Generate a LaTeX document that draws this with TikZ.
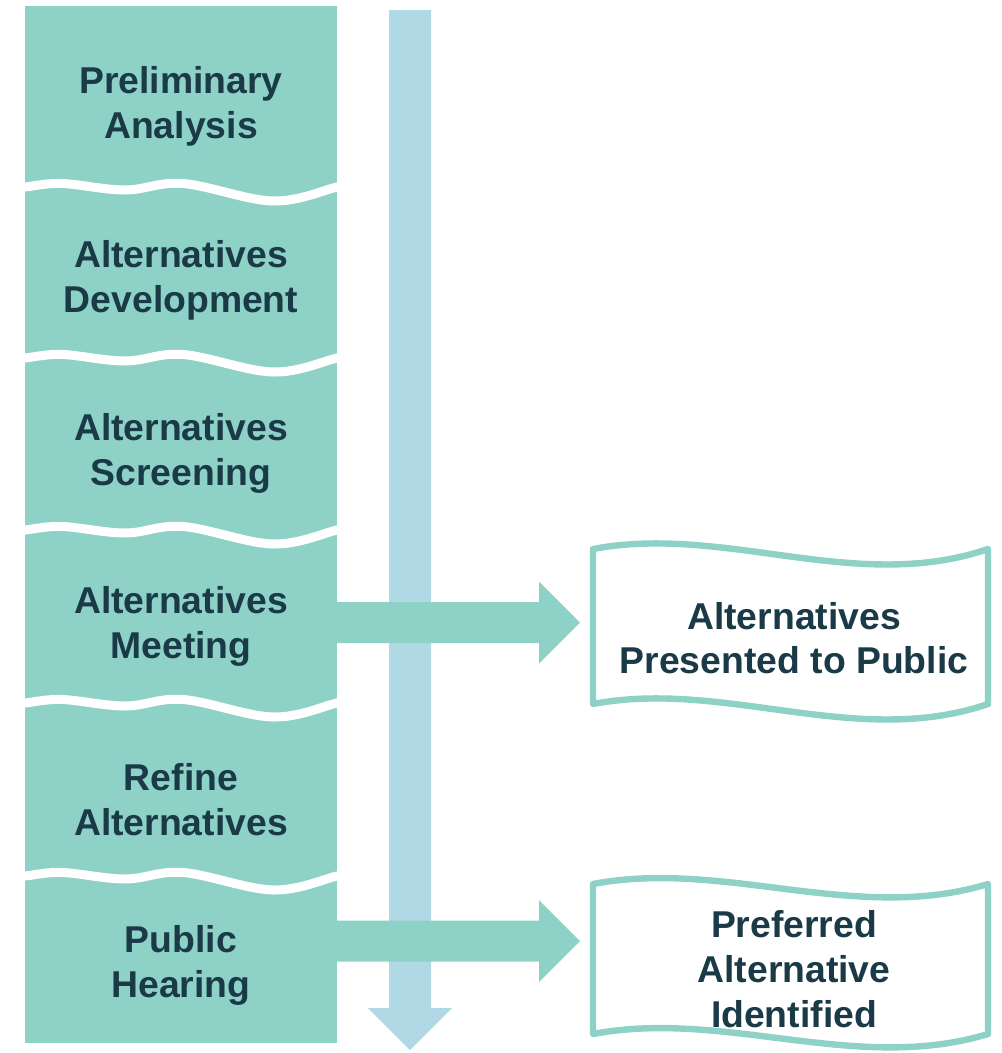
\documentclass[tikz,border=0pt]{standalone}
\usepackage{fontspec}
\setmainfont{Liberation Sans}
\usetikzlibrary{calc}
\definecolor{tealf}{HTML}{8ED1C6}
\definecolor{bluef}{HTML}{B0D8E5}
\definecolor{txt}{HTML}{1A3A47}
\newcommand{\teaarrow}[2]{%
  \fill[tealf] ($(#1)+(0,-20.5)$) -- ($(#2)+(-41,-20.5)$) -- ($(#2)+(-41,-41)$) -- (#2)
    -- ($(#2)+(-41,41)$) -- ($(#2)+(-41,20.5)$) -- ($(#1)+(0,20.5)$) -- cycle;}
\begin{document}
\begin{tikzpicture}[x=0.75pt,y=-0.75pt,
  lbl/.style={text=txt, font=\fontsize{28}{33.5}\selectfont\bfseries, align=center, inner sep=0pt},
  gapline/.style={draw=white, line width=6.75pt},
  tapebox/.style={draw=tealf, fill=white, line width=4.8pt, line join=round}]
\useasboundingbox (0,0) rectangle (1002,1053);
% left column of stages
\fill[tealf] (25,6) rectangle (337,1043);
\foreach \y in {187,358,530,703,876}{
  \draw[gapline] plot[smooth, tension=0.6] coordinates {(12,\y+1) (25,\y) (62,\y-3.5) (125,\y+3) (183,\y-3.5) (273,\y+14) (337,\y) (350,\y-3)};
}
% vertical timeline arrow
\coordinate (vtop) at (410,10);
\coordinate (vtip) at (410,1050);
\fill[bluef] ($(vtop)+(-21,0)$) -- ($(vtop)+(21,0)$) -- ($(vtip)+(21,-42)$) -- ($(vtip)+(42,-42)$)
  -- (vtip) -- ($(vtip)+(-42,-42)$) -- ($(vtip)+(-21,-42)$) -- cycle;
% horizontal arrows
\coordinate (a1s) at (337,622.5);
\coordinate (a1t) at (580,622.5);
\coordinate (a2s) at (337,941);
\coordinate (a2t) at (580,941);
\teaarrow{a1s}{a1t}
\teaarrow{a2s}{a2t}
% outcome boxes
\draw[tapebox] (593,549) .. controls (724.7,524) and (856.3,594) .. (988,549) -- (988,704)
  .. controls (856.3,749) and (724.7,679) .. (593,704) -- cycle;
\draw[tapebox] (593,884) .. controls (724.7,859) and (856.3,924) .. (988,884) -- (988,1034)
  .. controls (856.3,1074) and (724.7,1009) .. (593,1034) -- cycle;
% labels
\node[lbl] (s1) at (181,106.5) {Preliminary\\Analysis};
\node[lbl] (s2) at (181,280.5) {Alternatives\\Development};
\node[lbl] (s3) at (181,453.5) {Alternatives\\Screening};
\node[lbl] (s4) at (181,626.5) {Alternatives\\Meeting};
\node[lbl] (s5) at (181,799.5) {Refine\\Alternatives};
\node[lbl] (s6) at (181,965.5) {Public\\Hearing};
\node[lbl] (r1) at (794,638) {Alternatives\\Presented to Public};
\node[lbl] (r2) at (794,969) {Preferred\\Alternative\\Identified};
\end{tikzpicture}
\end{document}
